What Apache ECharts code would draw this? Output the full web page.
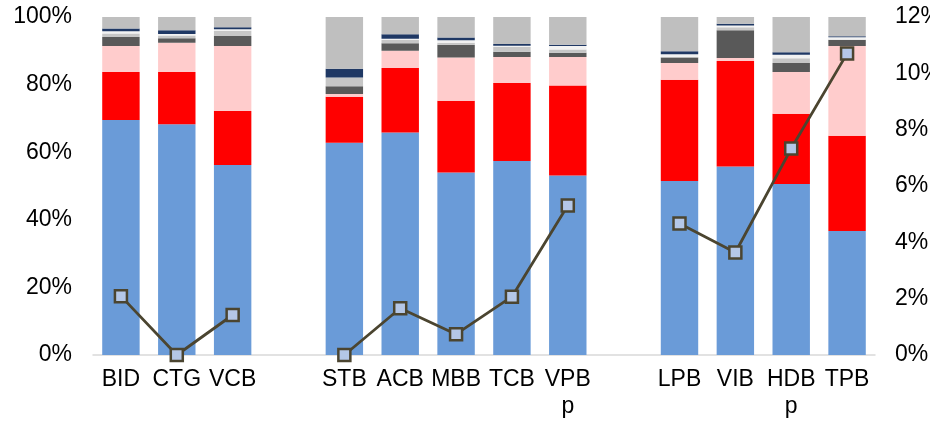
<!DOCTYPE html>
<html>
<head>
<meta charset="utf-8">
<script src="https://cdn.jsdelivr.net/npm/echarts@6/dist/echarts.min.js"></script>
<style>
  html, body { margin: 0; padding: 0; background: #ffffff; }
  #chart { width: 930px; height: 426px; }
</style>
</head>
<body>
<div id="chart"></div>
<script>
// Bank tickers; empty strings leave a gap between the three groups
const categories = ['BID', 'CTG', 'VCB', '', 'STB', 'ACB', 'MBB', 'TCB', 'VPB\np', '', 'LPB', 'VIB', 'HDB\np', 'TPB'];

// Stacked shares (% of total), bottom to top
const segBlue     = [69.5, 68.3, 56.2, '-', 62.8, 65.8, 54.0, 57.4, 53.1, '-', 51.5, 55.8, 50.6, 36.7];
const segRed      = [14.2, 15.4, 16.0, '-', 13.6, 19.1, 21.2, 23.1, 26.6, '-', 29.9, 31.2, 20.8, 28.2];
const segPink     = [7.7, 8.7, 19.2, '-', 0.8, 5.1, 12.8, 7.7, 8.5, '-', 5.0, 0.9, 12.3, 26.5];
const segDarkGray = [2.7, 1.3, 3.0, '-', 2.3, 2.2, 3.8, 1.5, 1.2, '-', 1.6, 8.2, 2.7, 1.9];
const segLightGray= [1.0, 0.8, 1.5, '-', 2.6, 1.1, 0.6, 1.4, 1.0, '-', 0.2, 0.9, 1.4, 0.0];
const segWhite    = [0.7, 0.5, 0.5, '-', 0.0, 0.3, 0.7, 0.4, 1.0, '-', 0.8, 0.5, 1.0, 0.7];
const segNavy     = [0.8, 1.1, 0.6, '-', 2.6, 1.3, 0.8, 0.5, 0.4, '-', 0.9, 0.5, 0.8, 0.3];
const segGray     = [3.4, 3.9, 3.0, '-', 15.3, 5.1, 6.1, 8.0, 8.2, '-', 10.1, 2.0, 10.4, 5.7];

// Ratio on the right-hand axis (%)
const lineValues  = [2.09, 0.0, 1.42, '-', 0.0, 1.66, 0.74, 2.07, 5.31, '-', 4.67, 3.64, 7.33, 10.70];

const leftTicks = { min: 0, max: 100, interval: 20 };
const rightTicks = { min: 0, max: 12, interval: 2 };

const stackDefs = [
  { data: segBlue, color: '#6a9bd8' },
  { data: segRed, color: '#ff0000' },
  { data: segPink, color: '#ffcccc' },
  { data: segDarkGray, color: '#595959' },
  { data: segLightGray, color: '#c6c6c6' },
  { data: segWhite, color: '#f2f2f2' },
  { data: segNavy, color: '#1f3864' },
  { data: segGray, color: '#bfbfbf' }
];

const font = "'Liberation Sans', Arial, sans-serif";

const series = stackDefs.map((s, i) => ({
  name: 'seg' + (i + 1),
  type: 'bar',
  stack: 'share',
  data: s.data,
  barCategoryGap: '33%',
  itemStyle: { color: s.color },
  emphasis: { disabled: true },
  animation: false
}));

series.push({
  name: 'ratio',
  type: 'line',
  yAxisIndex: 1,
  data: lineValues,
  symbol: 'rect',
  symbolSize: 12,
  lineStyle: { color: '#4b4530', width: 2.8 },
  itemStyle: { color: '#b4c7e7', borderColor: '#4b4530', borderWidth: 2.5 },
  z: 10,
  animation: false
});

const chart = echarts.init(document.getElementById('chart'), null, { renderer: 'canvas' });
chart.setOption({
  animation: false,
  grid: {
    left: 93, right: 55, top: 17, bottom: 71,
    containLabel: false,
    outerBoundsMode: 'none'
  },
  xAxis: {
    type: 'category',
    data: categories,
    axisLine: { show: true, lineStyle: { color: '#d9d9d9', width: 1.5 } },
    axisTick: { show: false },
    axisLabel: {
      interval: 0,
      margin: 11,
      color: '#000000',
      fontSize: 23,
      lineHeight: 27,
      fontFamily: font
    }
  },
  yAxis: [
    {
      type: 'value',
      min: leftTicks.min,
      max: leftTicks.max,
      interval: leftTicks.interval,
      splitLine: { show: false },
      axisLine: { show: false },
      axisTick: { show: false },
      axisLabel: {
        formatter: '{value}%',
        margin: 21,
        color: '#000000',
        fontSize: 23,
        fontFamily: font
      }
    },
    {
      type: 'value',
      min: rightTicks.min,
      max: rightTicks.max,
      interval: rightTicks.interval,
      splitLine: { show: false },
      axisLine: { show: false },
      axisTick: { show: false },
      axisLabel: {
        formatter: '{value}%',
        margin: 20,
        color: '#000000',
        fontSize: 23,
        fontFamily: font
      }
    }
  ],
  series: series
});
</script>
</body>
</html>
